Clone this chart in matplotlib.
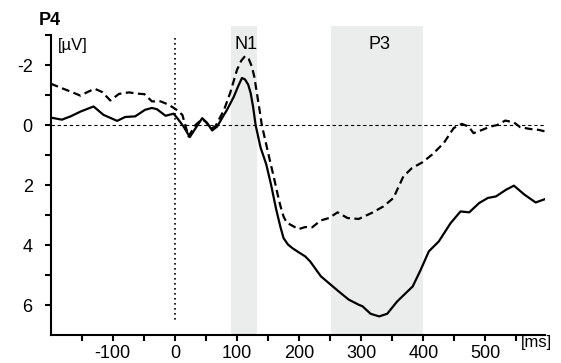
import numpy as np
import matplotlib.pyplot as plt

plt.rcParams['font.family'] = ['Liberation Sans', 'DejaVu Sans']
plt.rcParams['axes.unicode_minus'] = False

# ERP at P4, time in ms, amplitude in microvolts (negative up)
t_solid = [-200, -182, -168, -152, -131, -115, -93, -80, -64, -48, -37, -29, -15, -2,
           5, 14, 24, 35, 44, 52, 60, 68, 79, 84, 95, 102, 108, 113, 118, 122, 126,
           130, 138, 147, 155, 163, 170, 175, 182, 189, 200, 210, 218, 235, 248, 264,
           280, 296, 302, 315, 329, 342, 358, 383, 396, 409, 425, 444, 460, 474, 490,
           504, 517, 533, 546, 563, 581, 596]
v_solid = [-0.25, -0.18, -0.29, -0.45, -0.62, -0.34, -0.14, -0.27, -0.29, -0.51, -0.57,
           -0.53, -0.31, -0.38, -0.2, 0.05, 0.4, 0.05, -0.23, -0.07, 0.18, 0.05, -0.34,
           -0.51, -0.95, -1.3, -1.57, -1.52, -1.35, -1.07, -0.6, 0.0, 0.75, 1.3, 2.0,
           2.8, 3.4, 3.77, 3.98, 4.1, 4.25, 4.38, 4.55, 5.04, 5.27, 5.55, 5.82, 5.99,
           6.04, 6.29, 6.38, 6.29, 5.88, 5.38, 4.82, 4.21, 3.88, 3.27, 2.88, 2.91, 2.6,
           2.43, 2.38, 2.16, 2.02, 2.32, 2.58, 2.47]

t_dashed = [-200, -182, -166, -152, -141, -129, -117, -104, -90, -74, -61, -49, -37, -23,
            -10, 4, 12, 22, 33, 44, 50, 58, 65, 79, 89, 100, 107, 113, 119, 124, 128,
            132, 136, 140, 148, 154, 160, 165, 170, 175, 180, 186, 199, 210, 221, 235,
            248, 262, 278, 296, 317, 336, 352, 368, 382, 398, 414, 433, 449, 462, 473,
            481, 495, 508, 519, 532, 546, 556, 572, 586, 596]
v_dashed = [-1.38, -1.23, -1.1, -0.98, -1.1, -1.21, -1.1, -0.82, -1.04, -1.09, -1.05,
            -1.03, -0.79, -0.79, -0.68, -0.49, -0.34, 0.38, 0.0, -0.2, -0.1, 0.12, 0.05,
            -0.5, -1.07, -1.84, -2.15, -2.3, -2.2, -1.95, -1.6, -1.07, -0.55, 0.0, 0.73,
            1.27, 1.8, 2.27, 2.7, 3.05, 3.25, 3.32, 3.47, 3.4, 3.41, 3.18, 3.1, 2.91,
            3.1, 3.13, 2.93, 2.71, 2.43, 1.71, 1.43, 1.25, 0.99, 0.6, 0.1, -0.04, 0.05,
            0.27, 0.16, 0.05, 0.0, -0.15, -0.09, 0.07, 0.13, 0.16, 0.21]

windows = [(90, 132, 'N1'), (252, 400, 'P3')]
x_major = [-100, 0, 100, 200, 300, 400, 500]
x_minor = [-150, -50, 50, 150, 250, 350, 450, 550]
y_major = [-2, 0, 2, 4, 6]
y_minor = [-3, -1, 1, 3, 5]

fig = plt.figure(figsize=(5.61, 3.63), dpi=100)
ax = fig.add_axes([0.0904, 0.0771, 0.881, 0.851])

for x0, x1, name in windows:
    ax.axvspan(x0, x1, color='#ebedec', lw=0, zorder=0)
    ax.text((x0 + x1) / 2 + 4, -2.7, name, ha='center', va='center', fontsize=13)

ax.axhline(0, color='black', lw=0.8, ls=(0, (3, 2.5)), zorder=1)
ax.plot([0, 0], [-2.9, 6.5], color='black', lw=1.2, ls=(0, (1, 2)), zorder=1)

ax.plot(t_dashed, v_dashed, color='black', lw=1.6, ls=(0, (3.5, 2)), zorder=3)
ax.plot(t_solid, v_solid, color='black', lw=1.6, zorder=4)

ax.set_xlim(-200, 596)
ax.set_ylim(7, -3.3)
ax.spines['top'].set_visible(False)
ax.spines['right'].set_visible(False)
ax.spines['left'].set_bounds(7, -3)
for s in ('left', 'bottom'):
    ax.spines[s].set_linewidth(1.5)

ax.set_xticks(x_major)
ax.set_xticks(x_minor, minor=True)
ax.set_yticks(y_major)
ax.set_yticklabels([str(v) for v in y_major])
ax.set_yticks(y_minor, minor=True)
ax.tick_params(which='both', direction='out', length=4, width=1.5, labelsize=13)
ax.tick_params(axis='y', pad=9)
ax.tick_params(axis='x', pad=3)

ax.text(-188, -2.65, '[µV]', ha='left', va='center', fontsize=12)
fig.text(521 / 561, 1 - 342 / 363, '[ms]', ha='left', va='center', fontsize=12)
fig.text(50 / 561, 1 - 20.5 / 363, 'P4', ha='center', va='center',
         fontsize=13, fontweight='bold')

fig.savefig('out.png', dpi=100)
